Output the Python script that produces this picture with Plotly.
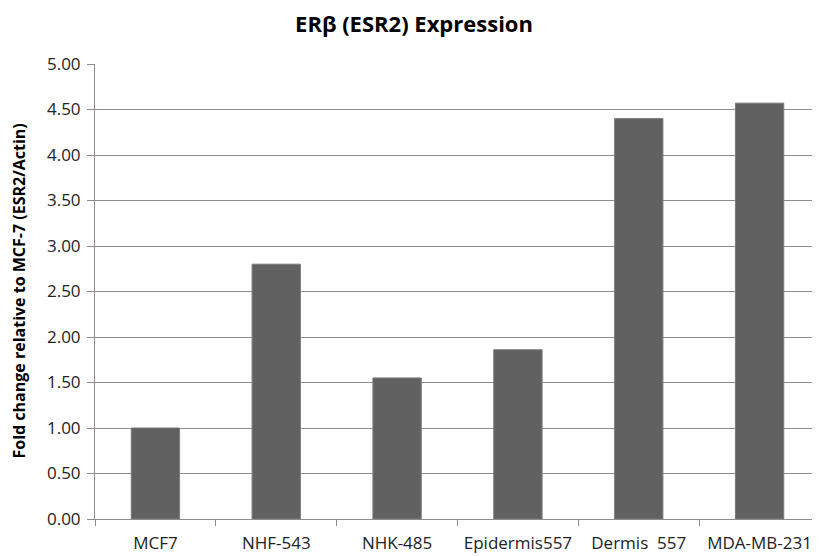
import plotly.graph_objects as go

categories = ["MCF7", "NHF-543", "NHK-485", "Epidermis557", "Dermis  557", "MDA-MB-231"]
values = [1.00, 2.80, 1.55, 1.86, 4.40, 4.57]
y_ticks = [0, 0.5, 1, 1.5, 2, 2.5, 3, 3.5, 4, 4.5, 5]
y_tick_labels = [f"{v:.2f}" for v in y_ticks]

FONT = "Open Sans"
# page body has an 8px margin; figure sized to fit the 820x556 window
W, H = 812, 548
L, T, PW, PH = 87, 56, 725, 455

fig = go.Figure()
fig.add_trace(go.Bar(
    x=categories, y=values,
    marker=dict(color="#616161", line=dict(color="#7a7a7a", width=1)),
    width=0.4,
))

fig.update_layout(
    width=W, height=H,
    margin=dict(l=L, r=W - L - PW, t=T, b=H - T - PH),
    paper_bgcolor="white", plot_bgcolor="white",
    showlegend=False,
    title=dict(text="<b>ER\u03b2 (ESR2) Expression</b>", x=(414 - 8) / W, xanchor="center",
               y=1 - 16 / H, yanchor="middle", yref="container",
               font=dict(family=FONT, size=22, color="#000000")),
    font=dict(family=FONT, color="#222222"),
)

fig.update_xaxes(
    type="category", range=[-0.5, 5.5],
    showline=True, linecolor="#8c8c8c", linewidth=1,
    ticks="outside", tickson="boundaries", ticklen=6, tickcolor="#8c8c8c",
    tickfont=dict(family=FONT, size=17, color="#222222"),
    tickangle=0, automargin=False, ticklabelstandoff=9,
    showgrid=False,
)
fig.update_yaxes(
    range=[0, 5], tickvals=y_ticks, ticktext=y_tick_labels,
    showline=True, linecolor="#8c8c8c", linewidth=1,
    ticks="outside", ticklen=7, tickcolor="#8c8c8c",
    tickfont=dict(family=FONT, size=17, color="#222222"),
    showgrid=True, gridcolor="#8c8c8c", gridwidth=1,
    zeroline=False, automargin=False, ticklabelstandoff=3,
)

fig.add_annotation(
    text="<b>Fold change relative to MCF-7 (ESR2/Actin)</b>",
    textangle=-90, xref="paper", yref="paper",
    x=(10 - L) / PW, y=0.5, xanchor="center", yanchor="middle",
    showarrow=False, font=dict(family=FONT, size=16, color="#000000"),
)

fig.write_html("out.html")
